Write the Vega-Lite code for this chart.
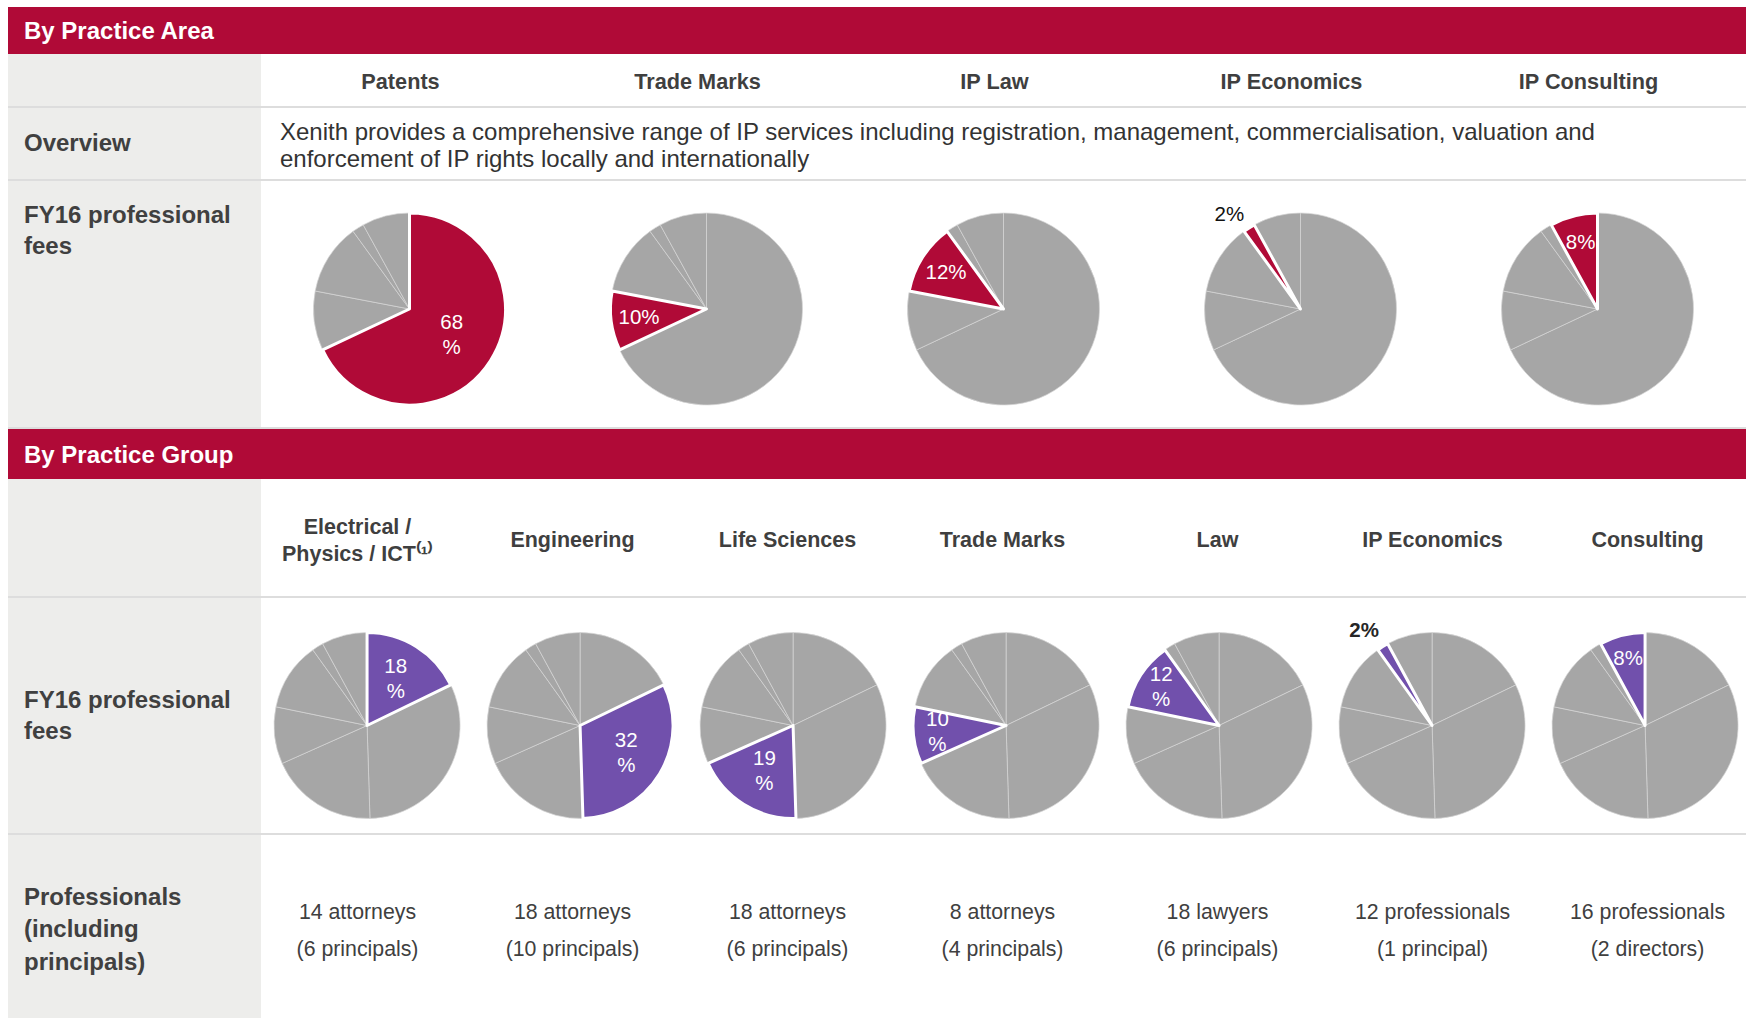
{
  "$schema": "https://vega.github.io/schema/vega-lite/v6.json",
  "background": "white",
  "padding": {"left": 8, "top": 7, "right": 0, "bottom": 0},
  "config": {"view": {"stroke": null}, "font": "Liberation Sans", "concat": {"spacing": 0}, "facet": {"spacing": 0}},
  "datasets": {
    "topCols": [{"name": "Patents"}, {"name": "Trade Marks"}, {"name": "IP Law"}, {"name": "IP Economics"}, {"name": "IP Consulting"}],
    "bottomCols": [
      {"name": "Electrical /\nPhysics / ICT⁽¹⁾", "people": "14 attorneys\n(6 principals)"},
      {"name": "Engineering", "people": "18 attorneys\n(10 principals)"},
      {"name": "Life Sciences", "people": "18 attorneys\n(6 principals)"},
      {"name": "Trade Marks", "people": "8 attorneys\n(4 principals)"},
      {"name": "Law", "people": "18 lawyers\n(6 principals)"},
      {"name": "IP Economics", "people": "12 professionals\n(1 principal)"},
      {"name": "Consulting", "people": "16 professionals\n(2 directors)"}
    ],
    "topPies": [
      {"pie": "Patents", "slice": "Patents", "i": 1, "share": 68, "label": "68\n%"},
      {"pie": "Patents", "slice": "Trade Marks", "i": 2, "share": 10},
      {"pie": "Patents", "slice": "IP Law", "i": 3, "share": 12},
      {"pie": "Patents", "slice": "IP Economics", "i": 4, "share": 2},
      {"pie": "Patents", "slice": "IP Consulting", "i": 5, "share": 8},
      {"pie": "Trade Marks", "slice": "Patents", "i": 1, "share": 68},
      {"pie": "Trade Marks", "slice": "Trade Marks", "i": 2, "share": 10, "label": "10%"},
      {"pie": "Trade Marks", "slice": "IP Law", "i": 3, "share": 12},
      {"pie": "Trade Marks", "slice": "IP Economics", "i": 4, "share": 2},
      {"pie": "Trade Marks", "slice": "IP Consulting", "i": 5, "share": 8},
      {"pie": "IP Law", "slice": "Patents", "i": 1, "share": 68},
      {"pie": "IP Law", "slice": "Trade Marks", "i": 2, "share": 10},
      {"pie": "IP Law", "slice": "IP Law", "i": 3, "share": 12, "label": "12%"},
      {"pie": "IP Law", "slice": "IP Economics", "i": 4, "share": 2},
      {"pie": "IP Law", "slice": "IP Consulting", "i": 5, "share": 8},
      {"pie": "IP Economics", "slice": "Patents", "i": 1, "share": 68},
      {"pie": "IP Economics", "slice": "Trade Marks", "i": 2, "share": 10},
      {"pie": "IP Economics", "slice": "IP Law", "i": 3, "share": 12},
      {"pie": "IP Economics", "slice": "IP Economics", "i": 4, "share": 2, "label": "2%"},
      {"pie": "IP Economics", "slice": "IP Consulting", "i": 5, "share": 8},
      {"pie": "IP Consulting", "slice": "Patents", "i": 1, "share": 68},
      {"pie": "IP Consulting", "slice": "Trade Marks", "i": 2, "share": 10},
      {"pie": "IP Consulting", "slice": "IP Law", "i": 3, "share": 12},
      {"pie": "IP Consulting", "slice": "IP Economics", "i": 4, "share": 2},
      {"pie": "IP Consulting", "slice": "IP Consulting", "i": 5, "share": 8, "label": "8%"}
    ],
    "bottomPies": [
      {"pie": "Electrical", "slice": "Electrical", "i": 1, "share": 18, "label": "18\n%"},
      {"pie": "Electrical", "slice": "Engineering", "i": 2, "share": 32},
      {"pie": "Electrical", "slice": "Life Sciences", "i": 3, "share": 19},
      {"pie": "Electrical", "slice": "Trade Marks", "i": 4, "share": 10},
      {"pie": "Electrical", "slice": "Law", "i": 5, "share": 12},
      {"pie": "Electrical", "slice": "IP Economics", "i": 6, "share": 2},
      {"pie": "Electrical", "slice": "Consulting", "i": 7, "share": 8},
      {"pie": "Engineering", "slice": "Electrical", "i": 1, "share": 18},
      {"pie": "Engineering", "slice": "Engineering", "i": 2, "share": 32, "label": "32\n%"},
      {"pie": "Engineering", "slice": "Life Sciences", "i": 3, "share": 19},
      {"pie": "Engineering", "slice": "Trade Marks", "i": 4, "share": 10},
      {"pie": "Engineering", "slice": "Law", "i": 5, "share": 12},
      {"pie": "Engineering", "slice": "IP Economics", "i": 6, "share": 2},
      {"pie": "Engineering", "slice": "Consulting", "i": 7, "share": 8},
      {"pie": "Life Sciences", "slice": "Electrical", "i": 1, "share": 18},
      {"pie": "Life Sciences", "slice": "Engineering", "i": 2, "share": 32},
      {"pie": "Life Sciences", "slice": "Life Sciences", "i": 3, "share": 19, "label": "19\n%"},
      {"pie": "Life Sciences", "slice": "Trade Marks", "i": 4, "share": 10},
      {"pie": "Life Sciences", "slice": "Law", "i": 5, "share": 12},
      {"pie": "Life Sciences", "slice": "IP Economics", "i": 6, "share": 2},
      {"pie": "Life Sciences", "slice": "Consulting", "i": 7, "share": 8},
      {"pie": "Trade Marks", "slice": "Electrical", "i": 1, "share": 18},
      {"pie": "Trade Marks", "slice": "Engineering", "i": 2, "share": 32},
      {"pie": "Trade Marks", "slice": "Life Sciences", "i": 3, "share": 19},
      {"pie": "Trade Marks", "slice": "Trade Marks", "i": 4, "share": 10, "label": "10\n%"},
      {"pie": "Trade Marks", "slice": "Law", "i": 5, "share": 12},
      {"pie": "Trade Marks", "slice": "IP Economics", "i": 6, "share": 2},
      {"pie": "Trade Marks", "slice": "Consulting", "i": 7, "share": 8},
      {"pie": "Law", "slice": "Electrical", "i": 1, "share": 18},
      {"pie": "Law", "slice": "Engineering", "i": 2, "share": 32},
      {"pie": "Law", "slice": "Life Sciences", "i": 3, "share": 19},
      {"pie": "Law", "slice": "Trade Marks", "i": 4, "share": 10},
      {"pie": "Law", "slice": "Law", "i": 5, "share": 12, "label": "12\n%"},
      {"pie": "Law", "slice": "IP Economics", "i": 6, "share": 2},
      {"pie": "Law", "slice": "Consulting", "i": 7, "share": 8},
      {"pie": "IP Economics", "slice": "Electrical", "i": 1, "share": 18},
      {"pie": "IP Economics", "slice": "Engineering", "i": 2, "share": 32},
      {"pie": "IP Economics", "slice": "Life Sciences", "i": 3, "share": 19},
      {"pie": "IP Economics", "slice": "Trade Marks", "i": 4, "share": 10},
      {"pie": "IP Economics", "slice": "Law", "i": 5, "share": 12},
      {"pie": "IP Economics", "slice": "IP Economics", "i": 6, "share": 2, "label": "2%"},
      {"pie": "IP Economics", "slice": "Consulting", "i": 7, "share": 8},
      {"pie": "Consulting", "slice": "Electrical", "i": 1, "share": 18},
      {"pie": "Consulting", "slice": "Engineering", "i": 2, "share": 32},
      {"pie": "Consulting", "slice": "Life Sciences", "i": 3, "share": 19},
      {"pie": "Consulting", "slice": "Trade Marks", "i": 4, "share": 10},
      {"pie": "Consulting", "slice": "Law", "i": 5, "share": 12},
      {"pie": "Consulting", "slice": "IP Economics", "i": 6, "share": 2},
      {"pie": "Consulting", "slice": "Consulting", "i": 7, "share": 8, "label": "8%"}
    ]
  },
  "spacing": 0,
  "vconcat": [
    {"width": 1738, "height": 47, "view": {"fill": "#B00A37"}, "data": {"values": [{"t": "By Practice Area"}]},
     "mark": {"type": "text", "align": "left", "baseline": "middle", "dy": 1, "fontSize": 24, "fontWeight": "bold", "fill": "white"},
     "encoding": {"text": {"field": "t"}, "x": {"value": 16}}},
    {"hconcat": [
      {"width": 253, "height": 52, "view": {"fill": "#EDEDEB"}, "data": {"values": []}, "mark": "text", "encoding": {}},
      {"width": 1485, "height": 52, "data": {"name": "topCols"},
       "mark": {"type": "text", "fontSize": 21.7, "fontWeight": "bold", "fill": "#3F3F3F", "baseline": "middle", "dy": 2},
       "encoding": {"x": {"field": "name", "type": "nominal", "sort": null, "axis": null, "scale": {"range": [-9, 1476]}}, "text": {"field": "name"}}}
    ], "spacing": 0},
    {"width": 1738, "height": 2, "view": {"fill": "#DDDDDD"}, "data": {"values": []}, "mark": "text", "encoding": {}},
    {"hconcat": [
      {"width": 253, "height": 71, "view": {"fill": "#EDEDEB"}, "data": {"values": [{"t": "Overview"}]},
       "mark": {"type": "text", "align": "left", "baseline": "middle", "fontSize": 24, "fontWeight": "bold", "fill": "#404040"},
       "encoding": {"text": {"field": "t"}, "x": {"value": 16}}},
      {"width": 1485, "height": 71, "data": {"values": [{"t": "Xenith provides a comprehensive range of IP services including registration, management, commercialisation, valuation and\nenforcement of IP rights locally and internationally"}]},
       "mark": {"type": "text", "align": "left", "baseline": "alphabetic", "fontSize": 24, "fill": "#333333", "lineBreak": "\n", "lineHeight": 27},
       "encoding": {"text": {"field": "t"}, "x": {"value": 19}, "y": {"value": 32}}}
    ], "spacing": 0},
    {"width": 1738, "height": 2, "view": {"fill": "#DDDDDD"}, "data": {"values": []}, "mark": "text", "encoding": {}},
    {"hconcat": [
      {"width": 253, "height": 246, "view": {"fill": "#EDEDEB"}, "data": {"values": [{"t": "FY16 professional\nfees"}]},
       "mark": {"type": "text", "align": "left", "baseline": "alphabetic", "fontSize": 24, "fontWeight": "bold", "fill": "#404040", "lineBreak": "\n", "lineHeight": 31},
       "encoding": {"text": {"field": "t"}, "x": {"value": 16}, "y": {"value": 42}}},
      {"data": {"name": "topPies"},
       "facet": {"column": {"field": "pie", "type": "nominal", "sort": ["Patents", "Trade Marks", "IP Law", "IP Economics", "IP Consulting"], "header": null}},
       "spacing": 0,
       "spec": {
         "width": 297, "height": 246,
         "encoding": {"theta": {"field": "share", "type": "quantitative", "stack": true}, "order": {"field": "i", "type": "quantitative"}},
         "layer": [
           {"mark": {"type": "arc", "outerRadius": 96, "yOffset": 5, "fill": "#A6A6A6", "stroke": "#D6D6D6", "strokeWidth": 0.7}},
           {"mark": {"type": "arc", "outerRadius": 96, "yOffset": 5, "stroke": "white", "strokeWidth": 3, "strokeJoin": "round"},
            "encoding": {"fill": {"condition": {"test": "datum.pie === datum.slice", "value": "#B00A37"}, "value": "transparent"},
                         "strokeOpacity": {"condition": {"test": "datum.pie === datum.slice", "value": 1}, "value": 0}}},
           {"mark": {"type": "text", "radius": 50, "yOffset": 5, "dy": -12.5, "fill": "white", "fontSize": 20.5, "lineBreak": "\n", "lineHeight": 25, "align": "center", "baseline": "middle"},
            "encoding": {"text": {"condition": {"test": "datum.pie === datum.slice && datum.share >= 15", "field": "label"}, "value": ""}}},
           {"mark": {"type": "text", "radius": 68, "yOffset": 5, "fill": "white", "fontSize": 20.5, "align": "center", "baseline": "middle"},
            "encoding": {"text": {"condition": {"test": "datum.pie === datum.slice && datum.share >= 5 && datum.share < 15", "field": "label"}, "value": ""}}},
           {"mark": {"type": "text", "radius": 105, "yOffset": 5, "dy": -5, "fill": "#111111", "fontSize": 20.5, "align": "right", "baseline": "middle"},
            "encoding": {"text": {"condition": {"test": "datum.pie === datum.slice && datum.share < 5", "field": "label"}, "value": ""}}}
         ]
       }}
    ], "spacing": 0},
    {"width": 1738, "height": 2, "view": {"fill": "#DDDDDD"}, "data": {"values": []}, "mark": "text", "encoding": {}},
    {"width": 1738, "height": 50, "view": {"fill": "#B00A37"}, "data": {"values": [{"t": "By Practice Group"}]},
     "mark": {"type": "text", "align": "left", "baseline": "middle", "dy": 2, "fontSize": 24, "fontWeight": "bold", "fill": "white"},
     "encoding": {"text": {"field": "t"}, "x": {"value": 16}}},
    {"hconcat": [
      {"width": 253, "height": 117, "view": {"fill": "#EDEDEB"}, "data": {"values": []}, "mark": "text", "encoding": {}},
      {"width": 1485, "height": 117, "data": {"name": "bottomCols"},
       "encoding": {"x": {"field": "name", "type": "nominal", "sort": null, "axis": null, "scale": {"range": [-11, 1494]}}},
       "layer": [
         {"mark": {"type": "text", "fontSize": 21.5, "fontWeight": "bold", "fill": "#3F3F3F", "baseline": "middle", "dy": 3},
          "encoding": {"text": {"condition": {"test": "indexof(datum.name, '\\n') < 0", "field": "name"}, "value": ""}}},
         {"mark": {"type": "text", "fontSize": 21.5, "fontWeight": "bold", "fill": "#3F3F3F", "baseline": "middle", "dy": -10, "lineBreak": "\n", "lineHeight": 27},
          "encoding": {"text": {"condition": {"test": "indexof(datum.name, '\\n') >= 0", "field": "name"}, "value": ""}}}
       ]}
    ], "spacing": 0},
    {"width": 1738, "height": 2, "view": {"fill": "#DDDDDD"}, "data": {"values": []}, "mark": "text", "encoding": {}},
    {"hconcat": [
      {"width": 253, "height": 235, "view": {"fill": "#EDEDEB"}, "data": {"values": [{"t": "FY16 professional\nfees"}]},
       "mark": {"type": "text", "align": "left", "baseline": "middle", "dy": -15, "fontSize": 24, "fontWeight": "bold", "fill": "#404040", "lineBreak": "\n", "lineHeight": 31},
       "encoding": {"text": {"field": "t"}, "x": {"value": 16}}},
      {"data": {"name": "bottomPies"},
       "facet": {"column": {"field": "pie", "type": "nominal", "sort": ["Electrical", "Engineering", "Life Sciences", "Trade Marks", "Law", "IP Economics", "Consulting"], "header": null}},
       "spacing": 0,
       "spec": {
         "width": 212.14, "height": 235,
         "encoding": {"theta": {"field": "share", "type": "quantitative", "stack": true}, "order": {"field": "i", "type": "quantitative"}},
         "layer": [
           {"mark": {"type": "arc", "outerRadius": 93, "yOffset": 10, "fill": "#A6A6A6", "stroke": "#D6D6D6", "strokeWidth": 0.7}},
           {"mark": {"type": "arc", "outerRadius": 93, "yOffset": 10, "stroke": "white", "strokeWidth": 3, "strokeJoin": "round"},
            "encoding": {"fill": {"condition": {"test": "datum.pie === datum.slice", "value": "#7150AC"}, "value": "transparent"},
                         "strokeOpacity": {"condition": {"test": "datum.pie === datum.slice", "value": 1}, "value": 0}}},
           {"mark": {"type": "text", "radius": 54, "yOffset": 10, "dy": -12.5, "fill": "white", "fontSize": 20.5, "lineBreak": "\n", "lineHeight": 25, "align": "center", "baseline": "middle"},
            "encoding": {"text": {"condition": {"test": "datum.pie === datum.slice && datum.share >= 15", "field": "label"}, "value": ""}}},
           {"mark": {"type": "text", "radius": 69, "yOffset": 10, "dy": -12.5, "fill": "white", "fontSize": 20.5, "lineBreak": "\n", "lineHeight": 25, "align": "center", "baseline": "middle"},
            "encoding": {"text": {"condition": {"test": "datum.pie === datum.slice && datum.share >= 9 && datum.share < 15", "field": "label"}, "value": ""}}},
           {"mark": {"type": "text", "radius": 69, "yOffset": 10, "fill": "white", "fontSize": 20.5, "align": "center", "baseline": "middle"},
            "encoding": {"text": {"condition": {"test": "datum.pie === datum.slice && datum.share >= 5 && datum.share < 9", "field": "label"}, "value": ""}}},
           {"mark": {"type": "text", "radius": 100, "yOffset": 10, "dy": -10, "fill": "#262626", "fontSize": 20.5, "fontWeight": "bold", "align": "right", "baseline": "middle"},
            "encoding": {"text": {"condition": {"test": "datum.pie === datum.slice && datum.share < 5", "field": "label"}, "value": ""}}}
         ]
       }}
    ], "spacing": 0},
    {"width": 1738, "height": 2, "view": {"fill": "#DDDDDD"}, "data": {"values": []}, "mark": "text", "encoding": {}},
    {"hconcat": [
      {"width": 253, "height": 183, "view": {"fill": "#EDEDEB"}, "data": {"values": [{"t": "Professionals\n(including\nprincipals)"}]},
       "mark": {"type": "text", "align": "left", "baseline": "middle", "dy": -29, "fontSize": 24, "fontWeight": "bold", "fill": "#404040", "lineBreak": "\n", "lineHeight": 32.5},
       "encoding": {"text": {"field": "t"}, "x": {"value": 16}}},
      {"width": 1485, "height": 183, "data": {"name": "bottomCols"},
       "mark": {"type": "text", "fontSize": 21.3, "fill": "#404040", "baseline": "middle", "dy": -14, "lineBreak": "\n", "lineHeight": 37},
       "encoding": {"x": {"field": "name", "type": "nominal", "sort": null, "axis": null, "scale": {"range": [-11, 1494]}}, "text": {"field": "people"}}}
    ], "spacing": 0}
  ]
}
